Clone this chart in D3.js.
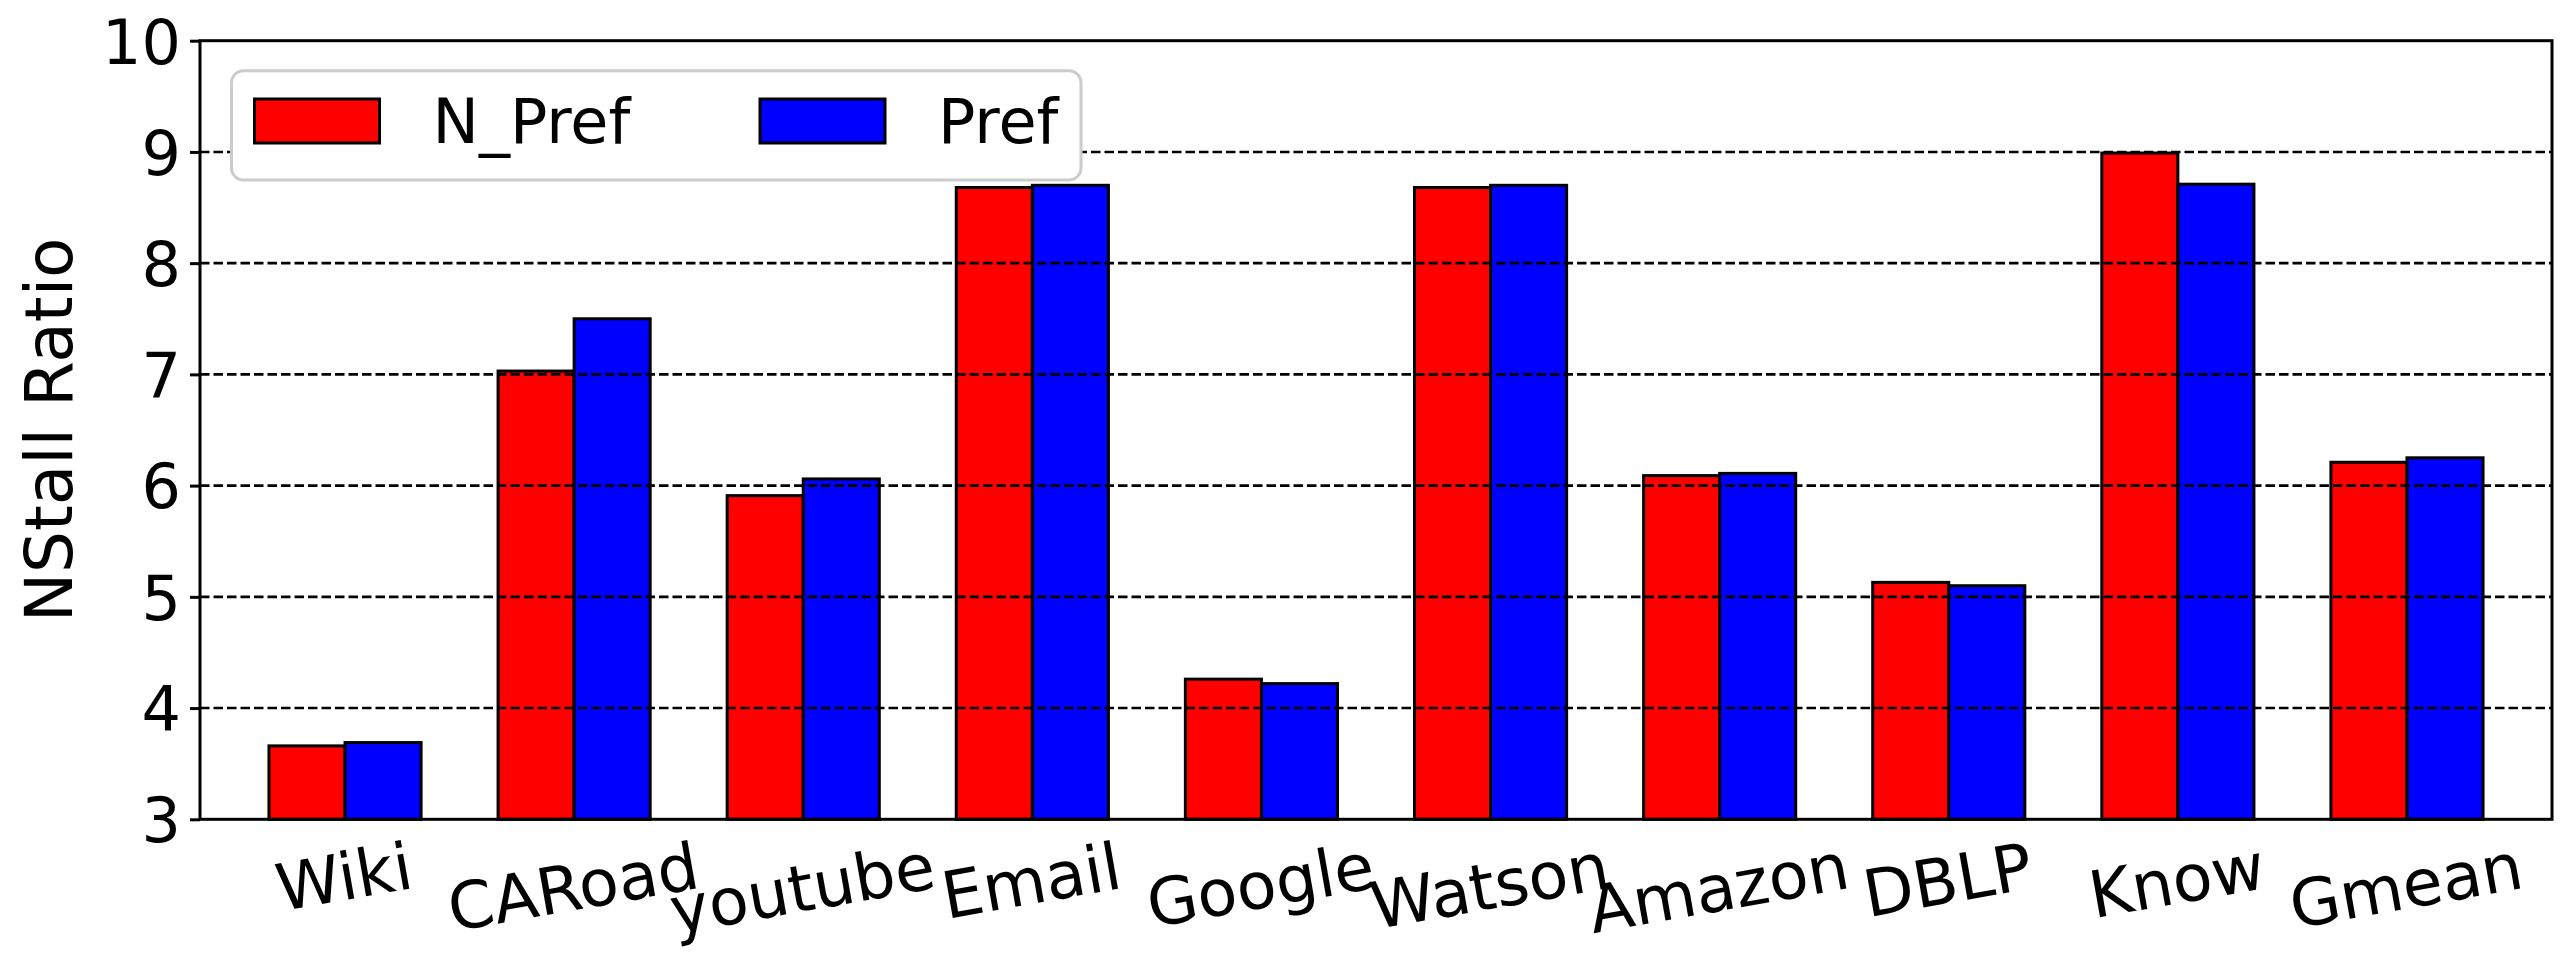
<!DOCTYPE html>
<html><head><meta charset="utf-8">
<script src="https://cdn.jsdelivr.net/npm/d3@7/dist/d3.min.js"></script>
<style>html,body{margin:0;padding:0;background:#fff;}svg{display:block;}</style>
</head><body>
<svg id="chart" width="2567" height="966"></svg>
<script>
const categories = ["Wiki","CARoad","youtube","Email","Google","Watson","Amazon","DBLP","Know","Gmean"];
const nPref = [3.66, 7.03, 5.91, 8.68, 4.26, 8.68, 6.09, 5.13, 8.99, 6.21];
const pref  = [3.69, 7.50, 6.06, 8.70, 4.22, 8.70, 6.11, 5.10, 8.71, 6.25];
const seriesNames = ["N_Pref", "Pref"];
const seriesColors = ["#ff0000", "#0000ff"];
const yTicks = [3,4,5,6,7,8,9,10];
const yLabel = "NStall Ratio";

const FONT = "DejaVu Sans";
const svg = d3.select("#chart");
const L = 200, R = 2552, T = 40.7, B = 819.3;
const barW = 0.332;
const x = d3.scaleLinear().domain([-0.633, categories.length - 1 + 0.633]).range([L, R]);
const y = d3.scaleLinear().domain([3, 10]).range([B, T]);

const series = [nPref, pref];
// bars
series.forEach((vals, s) => {
  svg.append("g").selectAll("rect").data(vals).join("rect")
    .attr("x", (d, i) => x(i - barW + s * barW))
    .attr("width", x(barW) - x(0))
    .attr("y", d => y(d))
    .attr("height", d => y(3) - y(d))
    .attr("fill", seriesColors[s])
    .attr("stroke", "#000").attr("stroke-width", 3);
});

// grid
svg.append("g").selectAll("line").data(yTicks.filter(t => t > 3 && t < 10)).join("line")
  .attr("x1", L).attr("x2", R).attr("y1", d => y(d)).attr("y2", d => y(d))
  .attr("stroke", "#000").attr("stroke-width", 2.6).attr("stroke-dasharray", "9.5,4");

// y axis
const yAxis = d3.axisLeft(y).tickValues(yTicks).tickFormat(d3.format("d")).tickSize(10).tickPadding(9);
const gy = svg.append("g").attr("transform", `translate(${L},0)`).call(yAxis);
gy.select(".domain").remove();
gy.selectAll(".tick line").attr("stroke", "#000").attr("stroke-width", 3);
gy.selectAll(".tick text").attr("font-family", FONT).attr("font-size", 62).attr("fill", "#000").attr("dy", "0.36em");

// x axis (labels only)
const xAxis = d3.axisBottom(x).tickValues(d3.range(categories.length)).tickFormat(i => categories[i]).tickSize(0);
const gx = svg.append("g").attr("transform", `translate(0,${B})`).call(xAxis);
gx.select(".domain").remove();
const theta = 10 * Math.PI / 180;
const FS = 65;
gx.selectAll(".tick").each(function(i) {
  const tick = d3.select(this);
  const tx = x(i);
  tick.attr("transform", null);
  const t = tick.select("text")
    .attr("font-family", FONT).attr("font-size", FS).attr("fill", "#000")
    .attr("text-anchor", "start").attr("dy", null).attr("y", 0).attr("x", 0);
  const w = t.node().getComputedTextLength();
  const asc = -0.76 * FS, desc = 0.24 * FS;
  const corners = [[0, asc], [w, asc], [0, desc], [w, desc]].map(([px, py]) =>
    [px * Math.cos(theta) + py * Math.sin(theta), -px * Math.sin(theta) + py * Math.cos(theta)]);
  const minX = d3.min(corners, c => c[0]), maxX = d3.max(corners, c => c[0]);
  const minY = d3.min(corners, c => c[1]);
  const topY = 839;
  const ox = tx - (minX + maxX) / 2;
  const oy = topY - minY;
  t.attr("transform", `translate(${ox},${oy - B}) rotate(-10)`);
});

// spines
svg.append("rect").attr("x", L).attr("y", T).attr("width", R - L).attr("height", B - T)
  .attr("fill", "none").attr("stroke", "#000").attr("stroke-width", 3);

// y label
svg.append("text").attr("transform", `translate(72,${(T + B) / 2}) rotate(-90)`)
  .attr("text-anchor", "middle").attr("font-family", FONT).attr("font-size", 66).attr("fill", "#000")
  .text(yLabel);

// legend
const lg = svg.append("g");
lg.append("rect").attr("x", 231.5).attr("y", 70.7).attr("width", 1081 - 231.5).attr("height", 180 - 70.7)
  .attr("rx", 12).attr("fill", "#fff").attr("stroke", "#cccccc").attr("stroke-width", 3);
const legX = [254.5, 760];
seriesNames.forEach((name, s) => {
  lg.append("rect").attr("x", legX[s]).attr("y", 99).attr("width", 125).attr("height", 44)
    .attr("fill", seriesColors[s]).attr("stroke", "#000").attr("stroke-width", 3);
  lg.append("text").attr("x", legX[s] + 178).attr("y", 143).attr("font-family", FONT).attr("font-size", 62)
    .attr("fill", "#000").text(name);
});
</script>
</body></html>
